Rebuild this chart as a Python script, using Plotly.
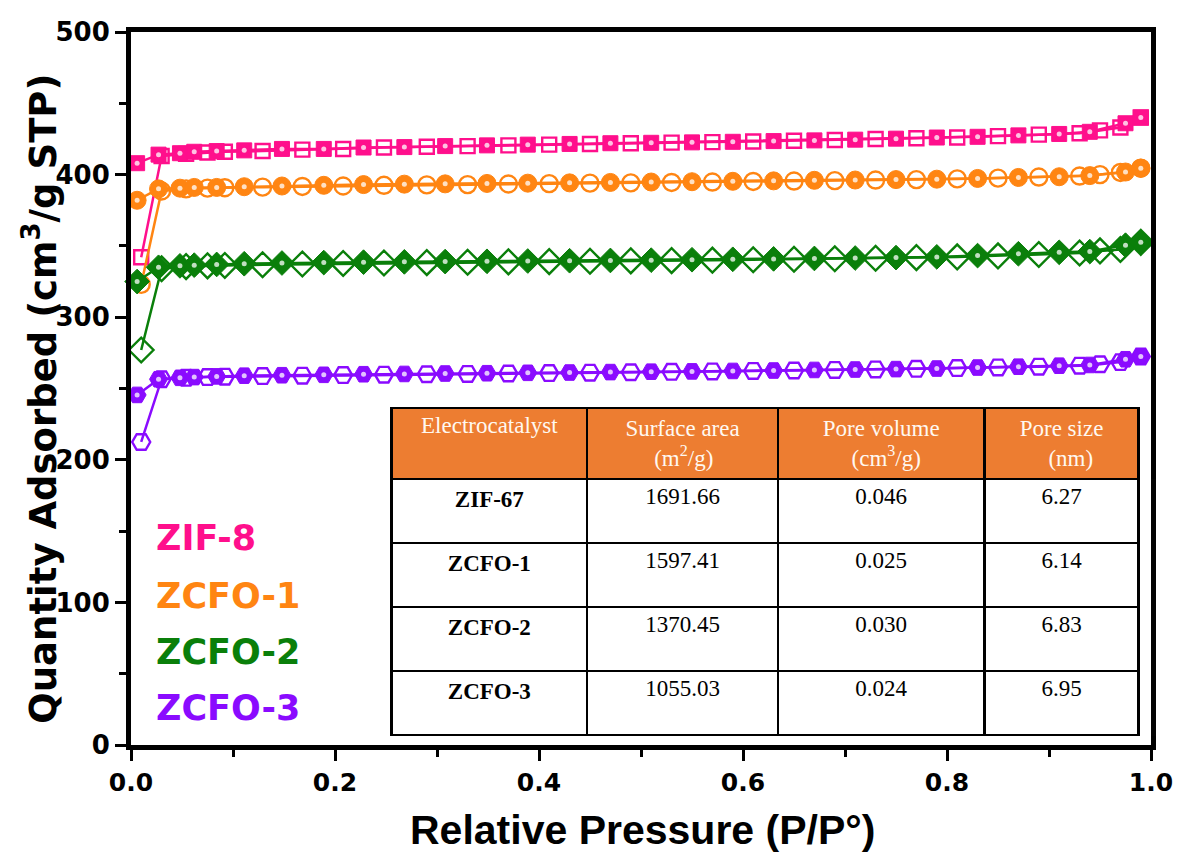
import plotly.graph_objects as go

# ---------------- data ----------------
ads_x = [0.006, 0.027, 0.048, 0.062, 0.084, 0.111, 0.148, 0.189, 0.228, 0.268,
         0.308, 0.349, 0.389, 0.43, 0.47, 0.51, 0.55, 0.59, 0.63, 0.67,
         0.71, 0.75, 0.79, 0.83, 0.87, 0.91, 0.94, 0.975, 0.99]
des_x = [0.99, 0.97, 0.95, 0.93, 0.89, 0.85, 0.81, 0.77, 0.73, 0.69,
         0.65, 0.61, 0.57, 0.53, 0.49, 0.45, 0.41, 0.37, 0.33, 0.29,
         0.248, 0.208, 0.168, 0.129, 0.092, 0.075, 0.054, 0.03, 0.01]

zif8_ads = [408, 414, 415, 416, 416.5, 417, 418, 418, 419, 419.3, 420, 420.5, 421, 421.5, 422,
            422.3, 422.6, 423, 423.5, 424, 424.5, 425.2, 426, 426.5, 427.5, 428.5, 430, 436, 440]
zif8_des = [440, 433, 431, 429, 428, 427, 426, 425.5, 425, 424.3, 423.7, 423.2, 422.8, 422.4, 422,
            421.5, 421, 420.5, 420, 419.5, 419, 418, 417.5, 416.5, 416, 415.5, 414.5, 413, 342]

zcfo1_ads = [382, 390, 390.5, 391, 391, 391.5, 392, 392.5, 393, 393.3, 393.5, 393.8, 394, 394.2, 394.5,
             394.8, 395, 395.3, 395.6, 396, 396.2, 396.5, 396.8, 397.3, 398, 398.5, 399.3, 401.8, 404.5]
zcfo1_des = [404.5, 401.5, 400, 399, 398.3, 397.5, 397, 396.5, 396.2, 395.8, 395.5, 395.2, 394.8, 394.5, 394.2,
             394, 393.7, 393.4, 393, 392.8, 392.5, 392, 391.7, 391.2, 390.8, 390.5, 390, 388.5, 323]

zcfo2_ads = [325, 335, 336, 336.5, 337, 337.5, 338, 338.3, 338.6, 338.8, 339, 339.2, 339.4, 339.6, 339.8,
             340, 340.3, 340.6, 340.9, 341.2, 341.5, 341.8, 342.3, 343.2, 344.5, 345.5, 346, 350.5, 352.5]
zcfo2_des = [352.5, 347.5, 346.5, 345, 344, 343, 342.3, 341.8, 341.3, 341, 340.6, 340.3, 340, 339.7, 339.5,
             339.2, 339, 338.8, 338.5, 338.3, 338, 337.7, 337.3, 336.8, 336.3, 336, 335.5, 334, 277]

zcfo3_ads = [245.5, 256.5, 257.5, 258, 258.5, 259, 259.3, 259.6, 260, 260.2, 260.5, 260.7, 261, 261.2, 261.5,
             261.8, 262, 262.3, 262.6, 263, 263.3, 263.6, 264, 264.7, 265.3, 266, 266.5, 270.5, 272.5]
zcfo3_des = [272.5, 268.5, 267, 266, 265.3, 264.8, 264.3, 263.8, 263.4, 263, 262.6, 262.3, 262, 261.7, 261.4,
             261.1, 260.8, 260.5, 260.2, 260, 259.7, 259.4, 259, 258.7, 258.3, 258, 257.5, 256.5, 212.5]

sample_names = ["ZIF-8", "ZCFO-1", "ZCFO-2", "ZCFO-3"]

NB = "\u00a0"
table_header = ["Electrocatalyst",
                "Surface area<br>" + NB * 5 + "(m<sup>2</sup>/g)",
                "Pore volume<br>" + NB * 5 + "(cm<sup>3</sup>/g)",
                "Pore size<br>" + NB * 5 + "(nm)"]
table_catalyst = ["ZIF-67", "ZCFO-1", "ZCFO-2", "ZCFO-3"]
table_area = ["1691.66", "1597.41", "1370.45", "1055.03"]
table_volume = ["0.046", "0.025", "0.030", "0.024"]
table_size = ["6.27", "6.14", "6.83", "6.95"]

# ---------------- style ----------------
colors = ["#FF0F8C", "#FF8512", "#0A7F0A", "#8A0BFF"]
filled_sym = ["square", "circle", "diamond", "hexagon2"]
open_sym = ["square-open", "circle-open", "diamond-open", "hexagon2-open"]
filled_size = [15, 18, 19, 18]
open_size = [14, 17, 19, 18]

series = [(zif8_ads, zif8_des), (zcfo1_ads, zcfo1_des), (zcfo2_ads, zcfo2_des), (zcfo3_ads, zcfo3_des)]

fig = go.Figure()
for i, (ya, yd) in enumerate(series):
    fig.add_trace(go.Scatter(
        x=des_x, y=yd, mode="lines+markers", cliponaxis=False,
        line=dict(color=colors[i], width=2.5),
        marker=dict(symbol=open_sym[i], size=open_size[i], color=colors[i],
                    line=dict(color=colors[i], width=2.4)),
        showlegend=False, hoverinfo="skip"))
    fig.add_trace(go.Scatter(
        x=ads_x, y=ya, mode="lines+markers", cliponaxis=False,
        line=dict(color=colors[i], width=2.5),
        marker=dict(symbol=filled_sym[i], size=filled_size[i], color=colors[i],
                    line=dict(color=colors[i], width=1)),
        name=sample_names[i], showlegend=False))
    fig.add_trace(go.Scatter(
        x=ads_x, y=ya, mode="markers", cliponaxis=False,
        marker=dict(symbol="circle", size=5, color="rgba(255,255,255,0.75)"),
        showlegend=False, hoverinfo="skip"))

# table
fig.add_trace(go.Table(
    domain=dict(x=[0.2554, 0.988], y=[0.0126, 0.4727]),
    columnwidth=[197, 192, 208, 155],
    header=dict(values=table_header,
                fill_color="#ED7D31",
                line=dict(color="black", width=2.5),
                font=dict(family="Liberation Serif", size=23, color="#FFF8F0"),
                align="center", height=70),
    cells=dict(values=[["<b>%s</b>" % c for c in table_catalyst], table_area, table_volume, table_size],
               fill_color="white",
               line=dict(color="black", width=2.5),
               font=dict(family="Liberation Serif", size=23, color="black"),
               align="center", height=64)))

# legend text annotations
leg_y = [0.29, 0.209, 0.130, 0.052]
annotations = []
for i, nm in enumerate(sample_names):
    annotations.append(dict(text=nm, xref="paper", yref="paper", x=0.023, y=leg_y[i],
                            xanchor="left", yanchor="middle", showarrow=False,
                            font=dict(family="DejaVu Sans", size=35, color=colors[i], weight="bold")))

annotations.append(dict(text="Quantity Adsorbed (cm<sup>3</sup>/g STP)", xref="paper", yref="paper",
                        x=-0.0887, y=0.485, xanchor="center", yanchor="middle", textangle=-90,
                        showarrow=False,
                        font=dict(family="DejaVu Sans", size=37, color="black", weight="bold")))
annotations.append(dict(text="Relative Pressure (P/P°)", xref="paper", yref="paper",
                        x=0.501, y=-0.119, xanchor="center", yanchor="middle",
                        showarrow=False,
                        font=dict(family="Liberation Sans", size=41, color="black", weight="bold")))

fig.update_layout(
    width=1185, height=852,
    margin=dict(l=131, r=28, t=32, b=107),
    paper_bgcolor="white", plot_bgcolor="white",
    annotations=annotations,
    xaxis=dict(range=[0, 1], tickvals=[0, 0.2, 0.4, 0.6, 0.8, 1.0],
               ticktext=["0.0", "0.2", "0.4", "0.6", "0.8", "1.0"],
               showgrid=False, zeroline=False,
               showline=True, linecolor="black", linewidth=5, mirror=True,
               ticks="outside", ticklen=11, tickwidth=3, tickcolor="black",
               minor=dict(dtick=0.1, tick0=0, ticks="outside", ticklen=7, tickwidth=3, tickcolor="black"),
               tickfont=dict(family="DejaVu Sans", size=25, color="black", weight="bold")),
    yaxis=dict(range=[0, 500], tickvals=[0, 100, 200, 300, 400, 500],
               showgrid=False, zeroline=False,
               showline=True, linecolor="black", linewidth=5, mirror=True,
               ticks="outside", ticklen=11, tickwidth=3, tickcolor="black",
               minor=dict(dtick=50, tick0=0, ticks="outside", ticklen=7, tickwidth=3, tickcolor="black"),
               tickfont=dict(family="DejaVu Sans", size=26, color="black", weight="bold")),
)

fig.write_html("out.html")
